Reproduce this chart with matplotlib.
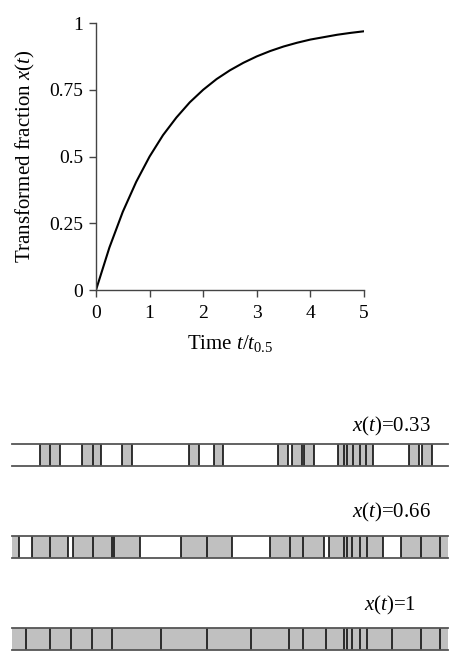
import matplotlib.pyplot as plt

plt.rcParams['font.family'] = ['Liberation Serif', 'DejaVu Serif']
plt.rcParams['mathtext.fontset'] = 'custom'
plt.rcParams['mathtext.rm'] = 'Liberation Serif'
plt.rcParams['mathtext.it'] = 'Liberation Serif:italic'

# transformed fraction curve
time = [0, 0.25, 0.5, 0.75, 1, 1.25, 1.5, 1.75, 2, 2.25, 2.5, 2.75, 3,
        3.25, 3.5, 3.75, 4, 4.25, 4.5, 4.75, 5]
fraction = [0, 0.159, 0.293, 0.405, 0.5, 0.580, 0.646, 0.703, 0.75, 0.790,
            0.823, 0.851, 0.875, 0.895, 0.912, 0.926, 0.938, 0.947, 0.956,
            0.963, 0.969]
x_ticks = [0, 1, 2, 3, 4, 5]
y_ticks = [0, 0.25, 0.5, 0.75, 1]
y_ticklabels = ['0', '0.25', '0.5', '0.75', '1']

# strips: transformed (gray) segments and grain boundary lines, position along sample
strip_labels = ['$x$($t$)=0.33', '$x$($t$)=0.66', '$x$($t$)=1']
strip1_gray = [(40.3, 60.3), (82.3, 101.3), (122.3, 132.3), (188.7, 199),
               (214, 223.3), (278.3, 287.7), (291.7, 301.7), (304.3, 314.3),
               (338.3, 373.3), (409.3, 419.3), (421.7, 431.7)]
strip1_lines = [40.3, 50.3, 60.3, 82.3, 92.7, 101.3, 122.3, 132.3, 188.7, 199,
                214, 223.3, 278.3, 287.7, 291.7, 301.7, 304.3, 314.3, 338.3,
                344, 346.7, 352.7, 360, 365.7, 373.3, 409.3, 419.3, 421.7, 431.7]
strip2_gray = [(12, 19), (32.3, 68.3), (73.3, 139.7), (181, 232.3),
               (269.7, 324), (329, 383), (401.3, 448)]
strip2_lines = [19, 32.3, 50.3, 68.3, 73.3, 92.7, 112.3, 114, 139.7, 181,
                206.7, 232.3, 269.7, 289.7, 303, 324, 329, 344, 346.7, 352.3,
                360.3, 366.7, 383, 401.3, 420.7, 440]
strip3_gray = [(12, 448)]
strip3_lines = [26, 50.3, 71.3, 92.3, 112.3, 161.3, 206.7, 251, 289.3, 302.7,
                326, 344, 346.7, 352.3, 360.3, 366.7, 391.7, 420.7, 440]
sample_range = (12, 448)

fig = plt.figure(figsize=(4.5, 6.66), dpi=100)
W, H = 450, 666

# top curve
ax = fig.add_axes([96 / W, 1 - 290 / H, 268 / W, 267 / H])
ax.plot(time, fraction, color='black', lw=1.5)
ax.set_xlim(0, 5)
ax.set_ylim(0, 1)
ax.set_xticks(x_ticks)
ax.set_yticks(y_ticks)
ax.set_yticklabels(y_ticklabels)
for s in ['top', 'right']:
    ax.spines[s].set_visible(False)
for s in ['left', 'bottom']:
    ax.spines[s].set_color('#444444')
    ax.spines[s].set_linewidth(1.0)
ax.tick_params(direction='out', length=5, width=1.0, color='#444444',
               labelsize=14, pad=4)
ax.tick_params(axis='x', pad=6)
ax.set_xlabel('Time $t/t_{0.5}$', fontsize=15, labelpad=8)
ax.set_ylabel('Transformed fraction $x$($t$)', fontsize=15, labelpad=9)

# strips
strips = [(strip1_gray, strip1_lines, 444), (strip2_gray, strip2_lines, 536),
          (strip3_gray, strip3_lines, 628)]
label_pos = [(431, 426), (431, 512), (416, 605)]
for (gray, lines, top), label, (lx, ly) in zip(strips, strip_labels, label_pos):
    sax = fig.add_axes([12 / W, 1 - (top + 22) / H, 436 / W, 22 / H])
    sax.broken_barh([(a, b - a) for a, b in gray], (0, 1), facecolors='#c0c0c0')
    sax.vlines(lines, 0, 1, colors='#111111', lw=1.2)
    sax.set_xlim(*sample_range)
    sax.set_ylim(0, 1)
    sax.set_xticks([])
    sax.set_yticks([])
    sax.spines['left'].set_visible(False)
    sax.spines['right'].set_visible(False)
    for s in ['top', 'bottom']:
        sax.spines[s].set_color('#555555')
        sax.spines[s].set_linewidth(1.3)
    fig.text(lx / W, 1 - ly / H, label, ha='right', va='center', fontsize=15)

fig.savefig('out.png', dpi=100)
plt.close(fig)
